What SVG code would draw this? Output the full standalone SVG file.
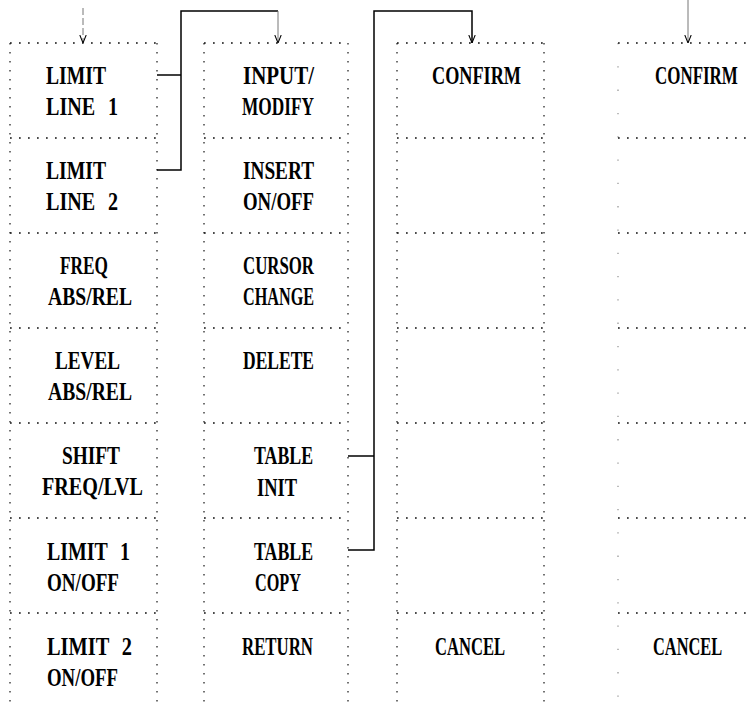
<svg xmlns="http://www.w3.org/2000/svg" width="753" height="706" viewBox="0 0 753 706">
<style>
.bg{fill:#fff}
.dh{stroke:#111;stroke-width:1.7;stroke-dasharray:1.7 7.3;fill:none}
.dv{stroke:#444;stroke-width:1.5;stroke-dasharray:1.5 7.5;fill:none}
.dvf{stroke:#999;stroke-width:1.3;stroke-dasharray:1.3 22;fill:none}
.t{font-family:"Liberation Serif","DejaVu Serif",serif;font-weight:bold;font-size:26px;word-spacing:10px;fill:#000}
.c{stroke:#000;stroke-width:1.5;fill:none}
.cf{stroke:#777;stroke-width:1;fill:none}
</style>
<defs>
<marker id="ah" viewBox="0 0 10 10" refX="10" refY="5" markerWidth="8" markerHeight="8" markerUnits="userSpaceOnUse" orient="auto">
<path d="M0,1 L10,5 L0,9" fill="none" stroke="#000" stroke-width="1.3"/>
</marker>
</defs>
<rect class="bg" x="0" y="0" width="753" height="706"/>

<g id="col1">
<line class="dv" x1="10" y1="43" x2="10" y2="706"/>
<line class="dv" x1="157" y1="43" x2="157" y2="706"/>
<g id="limit-line-1"><line class="dh" x1="10" y1="43" x2="157" y2="43"/><text class="t" x="46" y="84" textLength="60" lengthAdjust="spacingAndGlyphs">LIMIT</text><text class="t" x="46" y="115" textLength="72" lengthAdjust="spacingAndGlyphs">LINE 1</text></g>
<g id="limit-line-2"><line class="dh" x1="10" y1="138" x2="157" y2="138"/><text class="t" x="46" y="179" textLength="60" lengthAdjust="spacingAndGlyphs">LIMIT</text><text class="t" x="46" y="210" textLength="72" lengthAdjust="spacingAndGlyphs">LINE 2</text></g>
<g id="freq-abs-rel"><line class="dh" x1="10" y1="233" x2="157" y2="233"/><text class="t" x="60" y="274" textLength="48" lengthAdjust="spacingAndGlyphs">FREQ</text><text class="t" x="48" y="305" textLength="84" lengthAdjust="spacingAndGlyphs">ABS/REL</text></g>
<g id="level-abs-rel"><line class="dh" x1="10" y1="328" x2="157" y2="328"/><text class="t" x="55" y="369" textLength="65" lengthAdjust="spacingAndGlyphs">LEVEL</text><text class="t" x="48" y="400" textLength="84" lengthAdjust="spacingAndGlyphs">ABS/REL</text></g>
<g id="shift-freq-lvl"><line class="dh" x1="10" y1="423" x2="157" y2="423"/><text class="t" x="62" y="464" textLength="58" lengthAdjust="spacingAndGlyphs">SHIFT</text><text class="t" x="42" y="495" textLength="101" lengthAdjust="spacingAndGlyphs">FREQ/LVL</text></g>
<g id="limit-1-on-off"><line class="dh" x1="10" y1="518" x2="157" y2="518"/><text class="t" x="47" y="560" textLength="83" lengthAdjust="spacingAndGlyphs">LIMIT 1</text><text class="t" x="47" y="591" textLength="72" lengthAdjust="spacingAndGlyphs">ON/OFF</text></g>
<g id="limit-2-on-off"><line class="dh" x1="10" y1="613" x2="157" y2="613"/><text class="t" x="47" y="655" textLength="85" lengthAdjust="spacingAndGlyphs">LIMIT 2</text><text class="t" x="47" y="686" textLength="71" lengthAdjust="spacingAndGlyphs">ON/OFF</text></g>
</g>

<g id="col2">
<line class="dv" x1="204" y1="43" x2="204" y2="706"/>
<line class="dv" x1="348" y1="43" x2="348" y2="706"/>
<g id="input-modify"><line class="dh" x1="204" y1="43" x2="348" y2="43"/><text class="t" x="243" y="84" textLength="71" lengthAdjust="spacingAndGlyphs">INPUT/</text><text class="t" x="242" y="115" textLength="72" lengthAdjust="spacingAndGlyphs">MODIFY</text></g>
<g id="insert-on-off"><line class="dh" x1="204" y1="138" x2="348" y2="138"/><text class="t" x="243" y="179" textLength="71" lengthAdjust="spacingAndGlyphs">INSERT</text><text class="t" x="243" y="210" textLength="71" lengthAdjust="spacingAndGlyphs">ON/OFF</text></g>
<g id="cursor-change"><line class="dh" x1="204" y1="233" x2="348" y2="233"/><text class="t" x="243" y="274" textLength="71" lengthAdjust="spacingAndGlyphs">CURSOR</text><text class="t" x="243" y="305" textLength="71" lengthAdjust="spacingAndGlyphs">CHANGE</text></g>
<g id="delete"><line class="dh" x1="204" y1="328" x2="348" y2="328"/><text class="t" x="243" y="369" textLength="71" lengthAdjust="spacingAndGlyphs">DELETE</text></g>
<g id="table-init"><line class="dh" x1="204" y1="423" x2="348" y2="423"/><text class="t" x="254" y="464" textLength="59" lengthAdjust="spacingAndGlyphs">TABLE</text><text class="t" x="257" y="496" textLength="40" lengthAdjust="spacingAndGlyphs">INIT</text></g>
<g id="table-copy"><line class="dh" x1="204" y1="518" x2="348" y2="518"/><text class="t" x="254" y="560" textLength="59" lengthAdjust="spacingAndGlyphs">TABLE</text><text class="t" x="255" y="591" textLength="46" lengthAdjust="spacingAndGlyphs">COPY</text></g>
<g id="return"><line class="dh" x1="204" y1="613" x2="348" y2="613"/><text class="t" x="242" y="655" textLength="71" lengthAdjust="spacingAndGlyphs">RETURN</text></g>
</g>

<g id="col3">
<line class="dv" x1="397" y1="43" x2="397" y2="706"/>
<line class="dv" x1="544" y1="43" x2="544" y2="706"/>
<g id="confirm-1"><line class="dh" x1="397" y1="43" x2="544" y2="43"/><text class="t" x="432" y="84" textLength="89" lengthAdjust="spacingAndGlyphs">CONFIRM</text></g>
<g id="blank-1a"><line class="dh" x1="397" y1="138" x2="544" y2="138"/></g>
<g id="blank-1b"><line class="dh" x1="397" y1="233" x2="544" y2="233"/></g>
<g id="blank-1c"><line class="dh" x1="397" y1="328" x2="544" y2="328"/></g>
<g id="blank-1d"><line class="dh" x1="397" y1="423" x2="544" y2="423"/></g>
<g id="blank-1e"><line class="dh" x1="397" y1="518" x2="544" y2="518"/></g>
<g id="cancel-1"><line class="dh" x1="397" y1="613" x2="544" y2="613"/><text class="t" x="435" y="655" textLength="70" lengthAdjust="spacingAndGlyphs">CANCEL</text></g>
</g>

<g id="col4">
<line class="dvf" x1="618" y1="43" x2="618" y2="706"/>
<g id="confirm-2"><line class="dh" x1="618" y1="43" x2="753" y2="43"/><text class="t" transform="matrix(0.72 0 0 1 655 84)" x="0" y="0" textLength="115" lengthAdjust="spacingAndGlyphs">CONFIRM</text></g>
<g id="blank-2a"><line class="dh" x1="618" y1="138" x2="753" y2="138"/></g>
<g id="blank-2b"><line class="dh" x1="618" y1="233" x2="753" y2="233"/></g>
<g id="blank-2c"><line class="dh" x1="618" y1="328" x2="753" y2="328"/></g>
<g id="blank-2d"><line class="dh" x1="618" y1="423" x2="753" y2="423"/></g>
<g id="blank-2e"><line class="dh" x1="618" y1="518" x2="753" y2="518"/></g>
<g id="cancel-2"><line class="dh" x1="618" y1="613" x2="753" y2="613"/><text class="t" transform="matrix(0.72 0 0 1 653 655)" x="0" y="0" textLength="96" lengthAdjust="spacingAndGlyphs">CANCEL</text></g>
</g>

<g id="connectors">
<line class="cf" x1="83" y1="8" x2="83" y2="43" stroke-dasharray="7 3" marker-end="url(#ah)"/>
<polyline class="c" points="157,75 181,75"/>
<polyline class="c" points="157,170 181,170 181,11 278,11"/>
<line class="cf" x1="278" y1="11" x2="278" y2="43" stroke="#ccc" marker-end="url(#ah)"/>
<polyline class="c" points="348,456 374,456"/>
<polyline class="c" points="348,550 374,550 374,11 472,11 472,43" marker-end="url(#ah)"/>
<line class="cf" x1="688" y1="0" x2="688" y2="43" marker-end="url(#ah)"/>
</g>
</svg>
